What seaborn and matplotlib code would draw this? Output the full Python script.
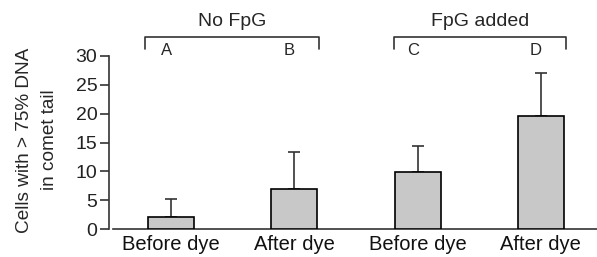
import numpy as np
import pandas as pd
import matplotlib
matplotlib.use("Agg")
import matplotlib.pyplot as plt
import seaborn as sns

# data
groups = ["A", "B", "C", "D"]
tick_labels = ["Before dye", "After dye", "Before dye", "After dye"]
means = [2.1, 7.0, 9.8, 19.6]
err_up = [3.1, 6.4, 4.6, 7.4]
brackets = ["No FpG", "FpG added"]

sns.set_theme(style="white")
plt.rcParams["font.family"] = ["Liberation Sans", "DejaVu Sans"]

df = pd.DataFrame({"group": groups, "value": means})

fig = plt.figure(figsize=(5.97, 2.57), dpi=100)
ax = fig.add_axes([108.5 / 597, 28 / 257, 488.5 / 597, 173 / 257])

sns.barplot(data=df, x="group", y="value", order=groups, color="#c8c8c8",
            edgecolor="black", linewidth=1.2, width=0.373, ax=ax,
            errorbar=None, saturation=1, zorder=3)
x = np.arange(len(groups))
ax.errorbar(x, means, yerr=[np.zeros(len(means)), err_up], fmt="none",
            ecolor="#333333", elinewidth=1.2, capsize=4, capthick=1.2, zorder=2)

ax.set_xlim(-0.507, 3.455)
ax.set_ylim(0, 30)
ax.set_yticks([0, 5, 10, 15, 20, 25, 30])
ax.set_xticks(x)
ax.set_xticklabels(tick_labels, fontsize=14.5, color="#111111")
ax.tick_params(axis="y", labelsize=14, length=6.5, width=1.1, pad=1.5,
               colors="#222222", left=True)
ax.tick_params(axis="x", length=0, pad=4.5)
ax.set_xlabel("")
ax.set_ylabel("")
for s in ["top", "right"]:
    ax.spines[s].set_visible(False)
for s in ["left", "bottom"]:
    ax.spines[s].set_color("#333333")
    ax.spines[s].set_linewidth(1.2)
ax.spines["bottom"].set_bounds(-0.47, 3.455)

# group brackets
spans = [(-0.21, 1.2), (1.81, 3.2)]
for (x0, x1), name in zip(spans, brackets):
    ax.plot([x0, x0, x1, x1], [31.2, 33.3, 33.3, 31.2], color="#333333",
            lw=1.2, clip_on=False)
    ax.text((x0 + x1) / 2, 35.9, name, ha="center", va="center", fontsize=14)
for xi, g in zip(x, groups):
    ax.text(xi - 0.04, 30.9, g, ha="center", va="center", fontsize=12)

fig.text(37 / 597, 1 - 140 / 257, "Cells with > 75% DNA\nin comet tail",
         rotation=90, ha="center", va="center", fontsize=13.7,
         linespacing=1.55)

fig.savefig("out.png", dpi=100)
